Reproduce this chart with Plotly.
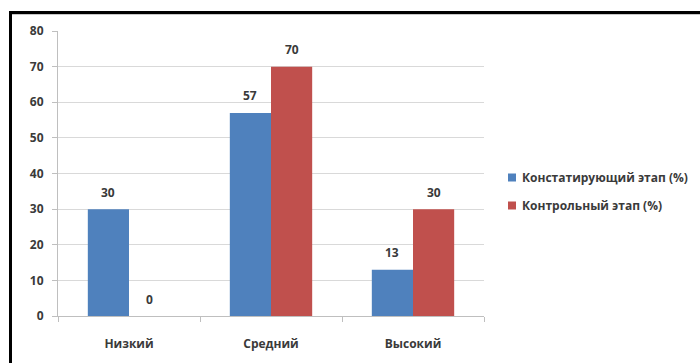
import plotly.graph_objects as go

categories = ["Низкий", "Средний", "Высокий"]
series_names = ["Констатирующий этап (%)", "Контрольный этап (%)"]
stage1 = [30, 57, 13]
stage2 = [0, 70, 30]
colors = ["#4F81BD", "#C0504D"]
y_ticks = [0, 10, 20, 30, 40, 50, 60, 70, 80]

W, H = 700, 363
L, R, T, B = 58, 216, 31, 47
pw, ph = W - L - R, H - T - B

def px(x):
    return (x - L) / pw

def py(y):
    return (H - B - y) / ph

FAM = "Open Sans, Liberation Sans, sans-serif"
TXT = "#3A3A3A"
FS = 12

fig = go.Figure()
series = [stage1, stage2]
bar_px = pw / len(categories) * 0.58 / 2
for i, (name, vals) in enumerate(zip(series_names, series)):
    fig.add_trace(go.Bar(
        x=categories, y=vals, name=name, marker_color=colors[i],
        marker_line_width=0, showlegend=False,
    ))
    offset = (i - 0.5) * bar_px
    for c, v in zip(categories, vals):
        fig.add_annotation(x=c, y=v, xref="x", yref="y", text=f"<b>{v}</b>",
                           showarrow=False, xshift=offset, yshift=17,
                           yanchor="middle", xanchor="center",
                           font=dict(family=FAM, size=FS, color=TXT))

fig.update_layout(
    width=W, height=H,
    margin=dict(l=L, r=R, t=T, b=B),
    paper_bgcolor="white", plot_bgcolor="white",
    barmode="group", bargap=0.42, bargroupgap=0,
    font=dict(family=FAM, size=FS, color=TXT),
    showlegend=False,
)
fig.update_xaxes(showgrid=False, showline=True, linecolor="#BFBFBF", linewidth=1,
                 ticks="outside", tickson="boundaries", ticklen=5, tickcolor="#BFBFBF",
                 tickfont=dict(family=FAM, size=FS, color=TXT),
                 ticklabelstandoff=17, automargin=False,
                 tickmode="array", tickvals=categories,
                 ticktext=[f"<b>{c}</b>" for c in categories])
fig.update_yaxes(range=[0, 80], showgrid=True, gridcolor="#D9D9D9",
                 showline=True, linecolor="#BFBFBF", linewidth=1,
                 ticks="outside", ticklen=5, tickcolor="#BFBFBF",
                 tickfont=dict(family=FAM, size=FS, color=TXT),
                 zeroline=False, ticklabelstandoff=6, automargin=False,
                 tickmode="array", tickvals=y_ticks,
                 ticktext=[f"<b>{v}</b>" for v in y_ticks])

# manual legend
legend_y = [177.5, 205.5]
for i, name in enumerate(series_names):
    yc = legend_y[i]
    fig.add_shape(type="rect", xref="paper", yref="paper",
                  x0=px(508), x1=px(516), y0=py(yc - 4), y1=py(yc + 4),
                  fillcolor=colors[i], line=dict(width=0))
    fig.add_annotation(x=px(520), y=py(yc), xref="paper", yref="paper",
                       text=f"<b>{name}</b>", showarrow=False,
                       xanchor="left", yanchor="middle",
                       font=dict(family=FAM, size=FS, color=TXT))

# outer frame
fig.add_shape(type="rect", xref="paper", yref="paper",
              x0=px(10.5), x1=px(720), y0=py(12.5), y1=py(380),
              line=dict(color="black", width=3), fillcolor="rgba(0,0,0,0)", layer="above")
fig.add_shape(type="line", xref="paper", yref="paper",
              x0=px(12), x1=px(700), y0=py(14.5), y1=py(14.5),
              line=dict(color="#C8C8C8", width=1), layer="above")

fig.write_html("out.html")
